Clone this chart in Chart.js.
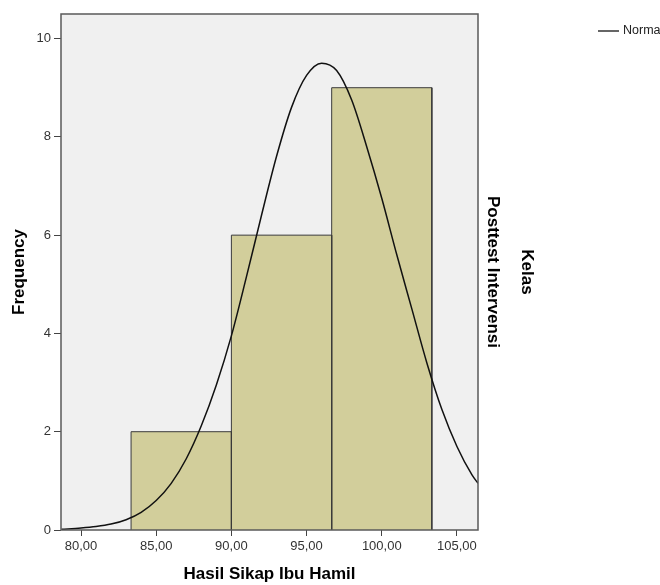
<!DOCTYPE html>
<html>
<head>
<meta charset="utf-8">
<script src="https://cdn.jsdelivr.net/npm/chart.js@4/dist/chart.umd.min.js"></script>
<style>
  html, body { margin: 0; padding: 0; background: #fff; }
  #wrap { width: 660px; height: 585px; position: relative; }
</style>
</head>
<body>
<div id="wrap"><canvas id="hist"></canvas></div>
<script>
// histogram bins (edges) and counts
const binEdges = [83.33, 90.00, 96.67, 103.33];
const binCounts = [2, 6, 9];

// normal curve
const curveX = [78.7, 80, 81, 82, 83, 84, 85, 86, 87, 88, 89, 90, 91, 92, 93, 94, 95, 96, 97, 98, 99, 100, 101, 102, 103, 104, 105, 106, 106.4];
const curveY = [0.015, 0.04, 0.07, 0.12, 0.21, 0.36, 0.6, 0.95, 1.45, 2.12, 2.95, 3.95, 5.15, 6.4, 7.6, 8.6, 9.25, 9.5, 9.35, 8.75, 7.8, 6.75, 5.6, 4.5, 3.4, 2.45, 1.7, 1.12, 0.95];

// axis ticks
const xTicks = [80, 85, 90, 95, 100, 105];
const yTicks = [0, 2, 4, 6, 8, 10];

const xMin = 78.67, xMax = 106.4;
const yMin = 0, yMax = 10.5;

const barFill = 'rgba(205, 200, 140, 0.85)';
const barLine = '#3a3a3a';

// one closed rectangle per bin
const barSets = binCounts.map(function (c, i) {
  return {
    label: 'bin' + i,
    data: [
      { x: binEdges[i], y: 0 },
      { x: binEdges[i], y: c },
      { x: binEdges[i + 1], y: c },
      { x: binEdges[i + 1], y: 0 }
    ],
    fill: 'origin',
    backgroundColor: barFill,
    borderColor: barLine,
    borderWidth: 1,
    pointRadius: 0,
    tension: 0,
    order: 2
  };
});

const normalSet = {
  label: 'Normal',
  data: curveX.map(function (x, i) { return { x: x, y: curveY[i] }; }),
  borderColor: '#111',
  borderWidth: 1.5,
  pointRadius: 0,
  fill: false,
  cubicInterpolationMode: 'monotone',
  order: 1
};

// plot background + frame, side labels and legend
const decor = {
  id: 'decor',
  beforeDatasetsDraw(chart) {
    const a = chart.chartArea, ctx = chart.ctx;
    ctx.save();
    ctx.fillStyle = '#f0f0f0';
    ctx.fillRect(a.left, a.top, a.right - a.left, a.bottom - a.top);
    ctx.restore();
  },
  afterDatasetsDraw(chart) {
    const a = chart.chartArea, ctx = chart.ctx;
    ctx.save();
    ctx.strokeStyle = '#5a5a5a';
    ctx.lineWidth = 1.5;
    ctx.strokeRect(a.left, a.top, a.right - a.left, a.bottom - a.top);
    ctx.restore();
  },
  afterDraw(chart) {
    const ctx = chart.ctx;
    const midY = (chart.chartArea.top + chart.chartArea.bottom) / 2;
    ctx.save();
    ctx.fillStyle = '#000';
    ctx.font = 'bold 17px "Liberation Sans", Arial, sans-serif';
    ctx.textAlign = 'center';
    ctx.textBaseline = 'middle';
    [['Posttest Intervensi', 493], ['Kelas', 527]].forEach(function (t) {
      ctx.save();
      ctx.translate(t[1], midY);
      ctx.rotate(Math.PI / 2);
      ctx.fillText(t[0], 0, 0);
      ctx.restore();
    });
    // legend
    ctx.strokeStyle = '#333';
    ctx.lineWidth = 1.5;
    ctx.beginPath();
    ctx.moveTo(598, 31);
    ctx.lineTo(619, 31);
    ctx.stroke();
    ctx.fillStyle = '#222';
    ctx.font = '12.5px "Liberation Sans", Arial, sans-serif';
    ctx.textAlign = 'left';
    ctx.fillText(normalSet.label, 623, 31);
    ctx.restore();
  }
};

new Chart(document.getElementById('hist'), {
  type: 'line',
  data: { datasets: barSets.concat([normalSet]) },
  options: {
    responsive: true,
    maintainAspectRatio: false,
    animation: false,
    layout: { padding: { left: 0, top: 14, right: 182, bottom: 0 } },
    plugins: {
      legend: { display: false },
      tooltip: { enabled: false }
    },
    scales: {
      x: {
        type: 'linear',
        min: xMin,
        max: xMax,
        afterBuildTicks: function (s) { s.ticks = xTicks.map(function (v) { return { value: v }; }); },
        afterFit: function (s) { s.height = 55; },
        grid: { display: true, drawOnChartArea: false, drawTicks: true, tickLength: 6, tickColor: '#444', tickWidth: 1 },
        border: { display: false },
        ticks: {
          padding: 3,
          color: '#333',
          font: { family: '"Liberation Sans", Arial, sans-serif', size: 13 },
          callback: function (v) { return v.toFixed(2).replace('.', ','); }
        },
        title: {
          display: true,
          text: 'Hasil Sikap Ibu Hamil',
          color: '#000',
          padding: { top: 4, bottom: 0 },
          font: { family: '"Liberation Sans", Arial, sans-serif', size: 17, weight: 'bold' }
        }
      },
      y: {
        min: yMin,
        max: yMax,
        afterBuildTicks: function (s) { s.ticks = yTicks.map(function (v) { return { value: v }; }); },
        afterFit: function (s) { s.width = 61; },
        grid: { display: true, drawOnChartArea: false, drawTicks: true, tickLength: 7, tickColor: '#444', tickWidth: 1 },
        border: { display: false },
        ticks: {
          padding: 3,
          color: '#333',
          font: { family: '"Liberation Sans", Arial, sans-serif', size: 13 }
        },
        title: {
          display: true,
          text: 'Frequency',
          color: '#000',
          padding: { top: 9, bottom: 0 },
          font: { family: '"Liberation Sans", Arial, sans-serif', size: 17, weight: 'bold' }
        }
      }
    }
  },
  plugins: [decor]
});
</script>
</body>
</html>
